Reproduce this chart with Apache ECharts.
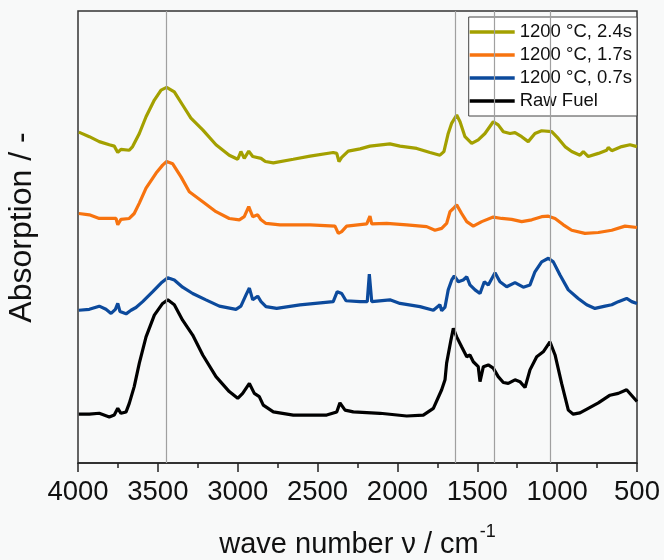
<!DOCTYPE html>
<html>
<head>
<meta charset="utf-8">
<script src="https://cdn.jsdelivr.net/npm/echarts@6/dist/echarts.min.js"></script>
<style>
  html, body { margin: 0; padding: 0; background: #f8f9f9; }
  #chart { width: 664px; height: 560px; }
</style>
</head>
<body>
<div id="chart"></div>
<script>
// FTIR spectra, wave number (cm-1) and offset absorption (a.u.)
const seriesNames = ['1200 °C, 2.4s', '1200 °C, 1.7s', '1200 °C, 0.7s', 'Raw Fuel'];
const seriesColors = ['#a3a000', '#f7730f', '#0c4a9c', '#000000'];

// Band positions marked by reference lines
const bandLines = [3450, 1640, 1395, 1045];

const wn24 = [3995, 3929, 3867, 3804, 3773, 3751, 3731, 3679, 3658, 3616, 3574, 3522, 3480, 3445, 3397, 3345, 3293, 3219, 3136, 3053, 3000, 2980, 2959, 2931, 2906, 2854, 2827, 2777, 2652, 2547, 2402, 2380, 2366, 2349, 2308, 2234, 2172, 2047, 1984, 1879, 1796, 1734, 1709, 1682, 1660, 1629, 1608, 1577, 1535, 1494, 1452, 1400, 1369, 1337, 1295, 1264, 1222, 1181, 1139, 1097, 1034, 993, 951, 909, 857, 836, 805, 742, 690, 680, 658, 596, 544, 500];
const abs24 = [0.732, 0.722, 0.711, 0.704, 0.701, 0.687, 0.694, 0.692, 0.700, 0.729, 0.766, 0.803, 0.825, 0.831, 0.821, 0.792, 0.763, 0.737, 0.704, 0.681, 0.672, 0.689, 0.674, 0.690, 0.678, 0.674, 0.667, 0.664, 0.672, 0.679, 0.687, 0.685, 0.667, 0.676, 0.690, 0.695, 0.701, 0.706, 0.701, 0.696, 0.687, 0.681, 0.689, 0.729, 0.752, 0.770, 0.755, 0.722, 0.707, 0.715, 0.729, 0.755, 0.748, 0.733, 0.729, 0.731, 0.722, 0.711, 0.729, 0.735, 0.733, 0.718, 0.700, 0.689, 0.681, 0.689, 0.678, 0.685, 0.692, 0.698, 0.691, 0.700, 0.704, 0.700];

const wn17 = [3995, 3929, 3867, 3804, 3762, 3751, 3731, 3679, 3648, 3616, 3574, 3512, 3470, 3445, 3407, 3355, 3303, 3219, 3136, 3053, 2990, 2959, 2931, 2906, 2875, 2854, 2823, 2735, 2547, 2391, 2370, 2349, 2318, 2192, 2172, 2161, 2067, 1942, 1817, 1765, 1723, 1692, 1671, 1650, 1629, 1598, 1566, 1525, 1472, 1400, 1347, 1285, 1222, 1159, 1097, 1055, 1013, 961, 909, 826, 742, 658, 575, 500];
const abs17 = [0.552, 0.549, 0.541, 0.541, 0.541, 0.527, 0.539, 0.541, 0.552, 0.575, 0.608, 0.641, 0.659, 0.667, 0.662, 0.633, 0.600, 0.578, 0.556, 0.541, 0.538, 0.545, 0.567, 0.545, 0.549, 0.538, 0.530, 0.527, 0.527, 0.524, 0.508, 0.512, 0.524, 0.529, 0.546, 0.529, 0.530, 0.527, 0.523, 0.515, 0.519, 0.530, 0.556, 0.563, 0.571, 0.552, 0.534, 0.524, 0.534, 0.544, 0.541, 0.539, 0.534, 0.538, 0.545, 0.546, 0.541, 0.527, 0.515, 0.508, 0.510, 0.515, 0.524, 0.521];

const wn07 = [3995, 3929, 3867, 3825, 3793, 3766, 3751, 3737, 3699, 3668, 3637, 3595, 3532, 3480, 3438, 3397, 3345, 3282, 3199, 3115, 3011, 2980, 2948, 2927, 2906, 2875, 2854, 2823, 2756, 2610, 2402, 2377, 2349, 2322, 2234, 2189, 2176, 2161, 2047, 1984, 1859, 1775, 1734, 1723, 1702, 1682, 1660, 1644, 1619, 1588, 1566, 1546, 1514, 1483, 1456, 1431, 1389, 1358, 1316, 1264, 1212, 1170, 1139, 1097, 1055, 1024, 982, 930, 868, 815, 763, 700, 658, 617, 565, 533, 500];
const abs07 = [0.338, 0.340, 0.347, 0.340, 0.331, 0.340, 0.353, 0.335, 0.330, 0.338, 0.344, 0.357, 0.379, 0.398, 0.410, 0.405, 0.389, 0.375, 0.361, 0.347, 0.340, 0.347, 0.372, 0.387, 0.361, 0.369, 0.357, 0.346, 0.342, 0.350, 0.357, 0.379, 0.375, 0.359, 0.357, 0.357, 0.418, 0.357, 0.361, 0.353, 0.346, 0.338, 0.350, 0.337, 0.345, 0.383, 0.405, 0.414, 0.401, 0.405, 0.412, 0.394, 0.383, 0.375, 0.401, 0.394, 0.421, 0.401, 0.390, 0.399, 0.389, 0.394, 0.423, 0.445, 0.453, 0.445, 0.416, 0.383, 0.364, 0.350, 0.342, 0.347, 0.350, 0.357, 0.364, 0.357, 0.353];

const wnRaw = [3995, 3929, 3867, 3804, 3773, 3751, 3731, 3699, 3679, 3648, 3616, 3574, 3522, 3470, 3438, 3397, 3345, 3282, 3219, 3136, 3053, 3000, 2969, 2927, 2896, 2865, 2840, 2777, 2652, 2443, 2380, 2360, 2328, 2276, 2109, 1942, 1838, 1775, 1723, 1702, 1692, 1665, 1650, 1629, 1598, 1566, 1546, 1525, 1494, 1483, 1462, 1431, 1400, 1369, 1337, 1306, 1264, 1233, 1201, 1170, 1128, 1087, 1045, 1013, 972, 930, 899, 857, 805, 742, 669, 617, 565, 500];
const absRaw = [0.108, 0.108, 0.110, 0.102, 0.106, 0.121, 0.110, 0.113, 0.132, 0.169, 0.221, 0.279, 0.327, 0.353, 0.361, 0.350, 0.316, 0.283, 0.239, 0.191, 0.158, 0.143, 0.154, 0.176, 0.154, 0.147, 0.128, 0.113, 0.106, 0.106, 0.113, 0.133, 0.117, 0.113, 0.110, 0.104, 0.106, 0.121, 0.162, 0.184, 0.221, 0.272, 0.298, 0.279, 0.257, 0.235, 0.239, 0.224, 0.213, 0.180, 0.213, 0.217, 0.210, 0.191, 0.178, 0.176, 0.184, 0.180, 0.167, 0.206, 0.235, 0.246, 0.268, 0.239, 0.176, 0.117, 0.108, 0.111, 0.121, 0.133, 0.150, 0.154, 0.162, 0.136];

// x-axis tick labels
const xTicks = [4000, 3500, 3000, 2500, 2000, 1500, 1000, 500];

const zip = (xs, ys) => xs.map((x, i) => [x, ys[i]]);
const spectra = [
  zip(wn24, abs24),
  zip(wn17, abs17),
  zip(wn07, abs07),
  zip(wnRaw, absRaw)
];

const fontFamily = '"Liberation Sans", Arial, sans-serif';
const chart = echarts.init(document.getElementById('chart'), null, { renderer: 'canvas' });

const series = [{
  name: 'bands',
  type: 'line',
  data: [],
  z: 1,
  silent: true,
  markLine: {
    silent: true,
    symbol: ['none', 'none'],
    label: { show: false },
    lineStyle: { color: '#a0a0a0', width: 1.2, type: 'solid' },
    data: bandLines.map(v => ({ xAxis: v }))
  }
}];
// draw raw fuel first so the heated samples sit on top
for (let i = spectra.length - 1; i >= 0; i--) {
  series.push({
    name: seriesNames[i],
    type: 'line',
    data: spectra[i],
    symbol: 'none',
    smooth: false,
    z: 3,
    color: seriesColors[i],
    lineStyle: { color: seriesColors[i], width: 3.2 }
  });
}

chart.setOption({
  backgroundColor: '#f8f9f9',
  animation: false,
  grid: {
    left: 78, right: 27, top: 11, bottom: 97,
    outerBoundsMode: 'none',
    containLabel: false,
    show: true,
    borderColor: '#333',
    borderWidth: 1.5,
    backgroundColor: 'transparent'
  },
  legend: {
    data: seriesNames,
    orient: 'vertical',
    right: 27,
    top: 17,
    icon: 'rect',
    itemWidth: 45,
    itemHeight: 3.5,
    itemGap: 1,
    padding: [4, 5, 4, 1],
    backgroundColor: '#ffffff',
    borderColor: '#444',
    borderWidth: 1,
    textStyle: { fontFamily, fontSize: 18.5, color: '#111', lineHeight: 22, padding: [0, 0, 0, 0] }
  },
  xAxis: {
    type: 'value',
    inverse: true,
    min: 500,
    max: 4000,
    interval: 500,
    name: '{a|wave number ν / cm}{b|-1}',
    nameLocation: 'middle',
    nameGap: 60,
    nameTextStyle: {
      rich: {
        a: { fontFamily, fontSize: 29, color: '#111', verticalAlign: 'bottom', lineHeight: 36 },
        b: { fontFamily, fontSize: 18, color: '#111', verticalAlign: 'top', lineHeight: 36, padding: [0, 0, 0, 1] }
      }
    },
    axisLine: { show: true, onZero: false, lineStyle: { color: '#222', width: 1.5 } },
    axisTick: { show: true, inside: false, length: 9, lineStyle: { color: '#222', width: 1.5 } },
    minorTick: { show: true, splitNumber: 2, length: 5, lineStyle: { color: '#222', width: 1.5 } },
    axisLabel: {
      fontFamily, fontSize: 27.5, color: '#111', margin: 15,
      formatter: v => (xTicks.includes(v) ? String(v) : '')
    },
    splitLine: { show: false }
  },
  yAxis: {
    type: 'value',
    min: 0,
    max: 1,
    name: 'Absorption / -',
    nameLocation: 'middle',
    nameGap: 40,
    nameRotate: 90,
    nameTextStyle: { fontFamily, fontSize: 32, color: '#111', padding: [0, 0, 0, 19] },
    axisLine: { show: false },
    axisTick: { show: false },
    axisLabel: { show: false },
    splitLine: { show: false }
  },
  series
});
</script>
</body>
</html>
